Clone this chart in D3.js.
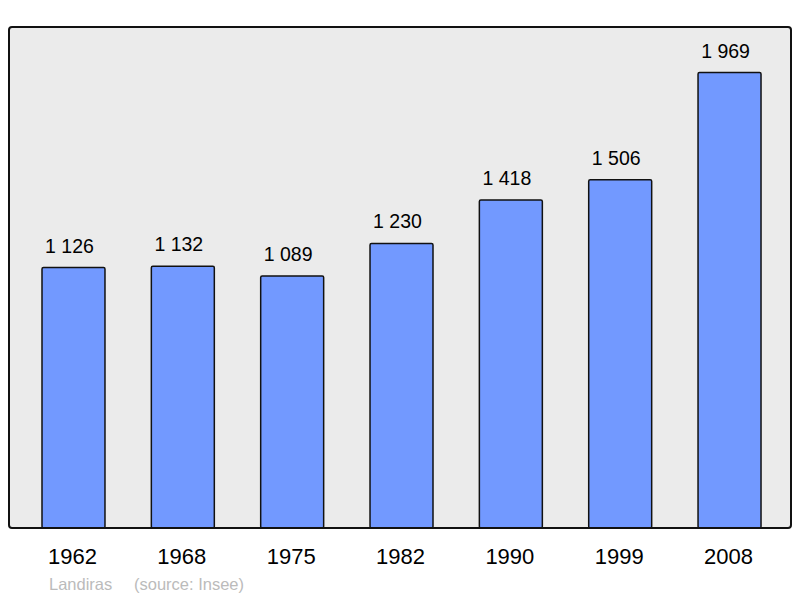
<!DOCTYPE html>
<html>
<head>
<meta charset="utf-8">
<script src="https://cdn.jsdelivr.net/npm/d3@7"></script>
<style>
  body { margin: 0; background: #fff; }
  text { font-family: "Liberation Sans", Arial, sans-serif; }
</style>
</head>
<body>
<svg width="800" height="598"></svg>
<script>

// data
var years = ["1962", "1968", "1975", "1982", "1990", "1999", "2008"];
var population = [1126, 1132, 1089, 1230, 1418, 1506, 1969];
var town = "Landiras";
var source = "(source: Insee)";

var svg = d3.select('svg');

var plot = { left: 9, top: 27, right: 791, bottom: 528 };

var x = d3.scaleBand()
    .domain(years)
    .range([plot.left, plot.right])
    .paddingInner(0.424)
    .paddingOuter(0.288)
    .align(0.524);

var y = d3.scaleLinear()
    .domain([0, d3.max(population) * 1.1])
    .range([plot.bottom, plot.top]);

// background frame
svg.append('rect')
    .attr('x', plot.left)
    .attr('y', plot.top)
    .attr('width', plot.right - plot.left)
    .attr('height', plot.bottom - plot.top)
    .attr('rx', 3)
    .attr('fill', '#ebebeb')
    .attr('stroke', 'none');

var bars = svg.append('g');

years.forEach(function (yr, i) {

    let cx = x(yr) + x.bandwidth() / 2;

    bars.append('rect')
        .attr('x', x(yr))
        .attr('y', y(population[i]))
        .attr('width', x.bandwidth())
        .attr('height', plot.bottom - y(population[i]))
        .attr('rx', 1.5)
        .attr('fill', '#7299ff')
        .attr('stroke', '#111')
        .attr('stroke-width', 1.5);

    // value above the bar, with a space for thousands
    // (the original sits a few px left of the bar centre)
    bars.append('text')
        .attr('x', cx - 4)
        .attr('y', y(population[i]) - 15)
        .attr('text-anchor', 'middle')
        .attr('font-size', 19.5)
        .attr('fill', '#000')
        .text(d3.format(',')(population[i]).replace(',', ' '));

    svg.append('text')
        .attr('x', cx - 1)
        .attr('y', 564)
        .attr('text-anchor', 'middle')
        .attr('font-size', 22)
        .attr('fill', '#000')
        .text(yr);
});

// frame border drawn on top so the bar bottoms sit on it
svg.append('rect')
    .attr('x', plot.left)
    .attr('y', plot.top)
    .attr('width', plot.right - plot.left)
    .attr('height', plot.bottom - plot.top)
    .attr('rx', 3)
    .attr('fill', 'none')
    .attr('stroke', '#111')
    .attr('stroke-width', 2);

svg.append('text')
    .attr('x', 49)
    .attr('y', 590)
    .attr('font-size', 16.5)
    .attr('fill', '#bbb')
    .text(town);

svg.append('text')
    .attr('x', 134)
    .attr('y', 590)
    .attr('font-size', 16.5)
    .attr('fill', '#bbb')
    .text(source);

</script>
</body>
</html>
